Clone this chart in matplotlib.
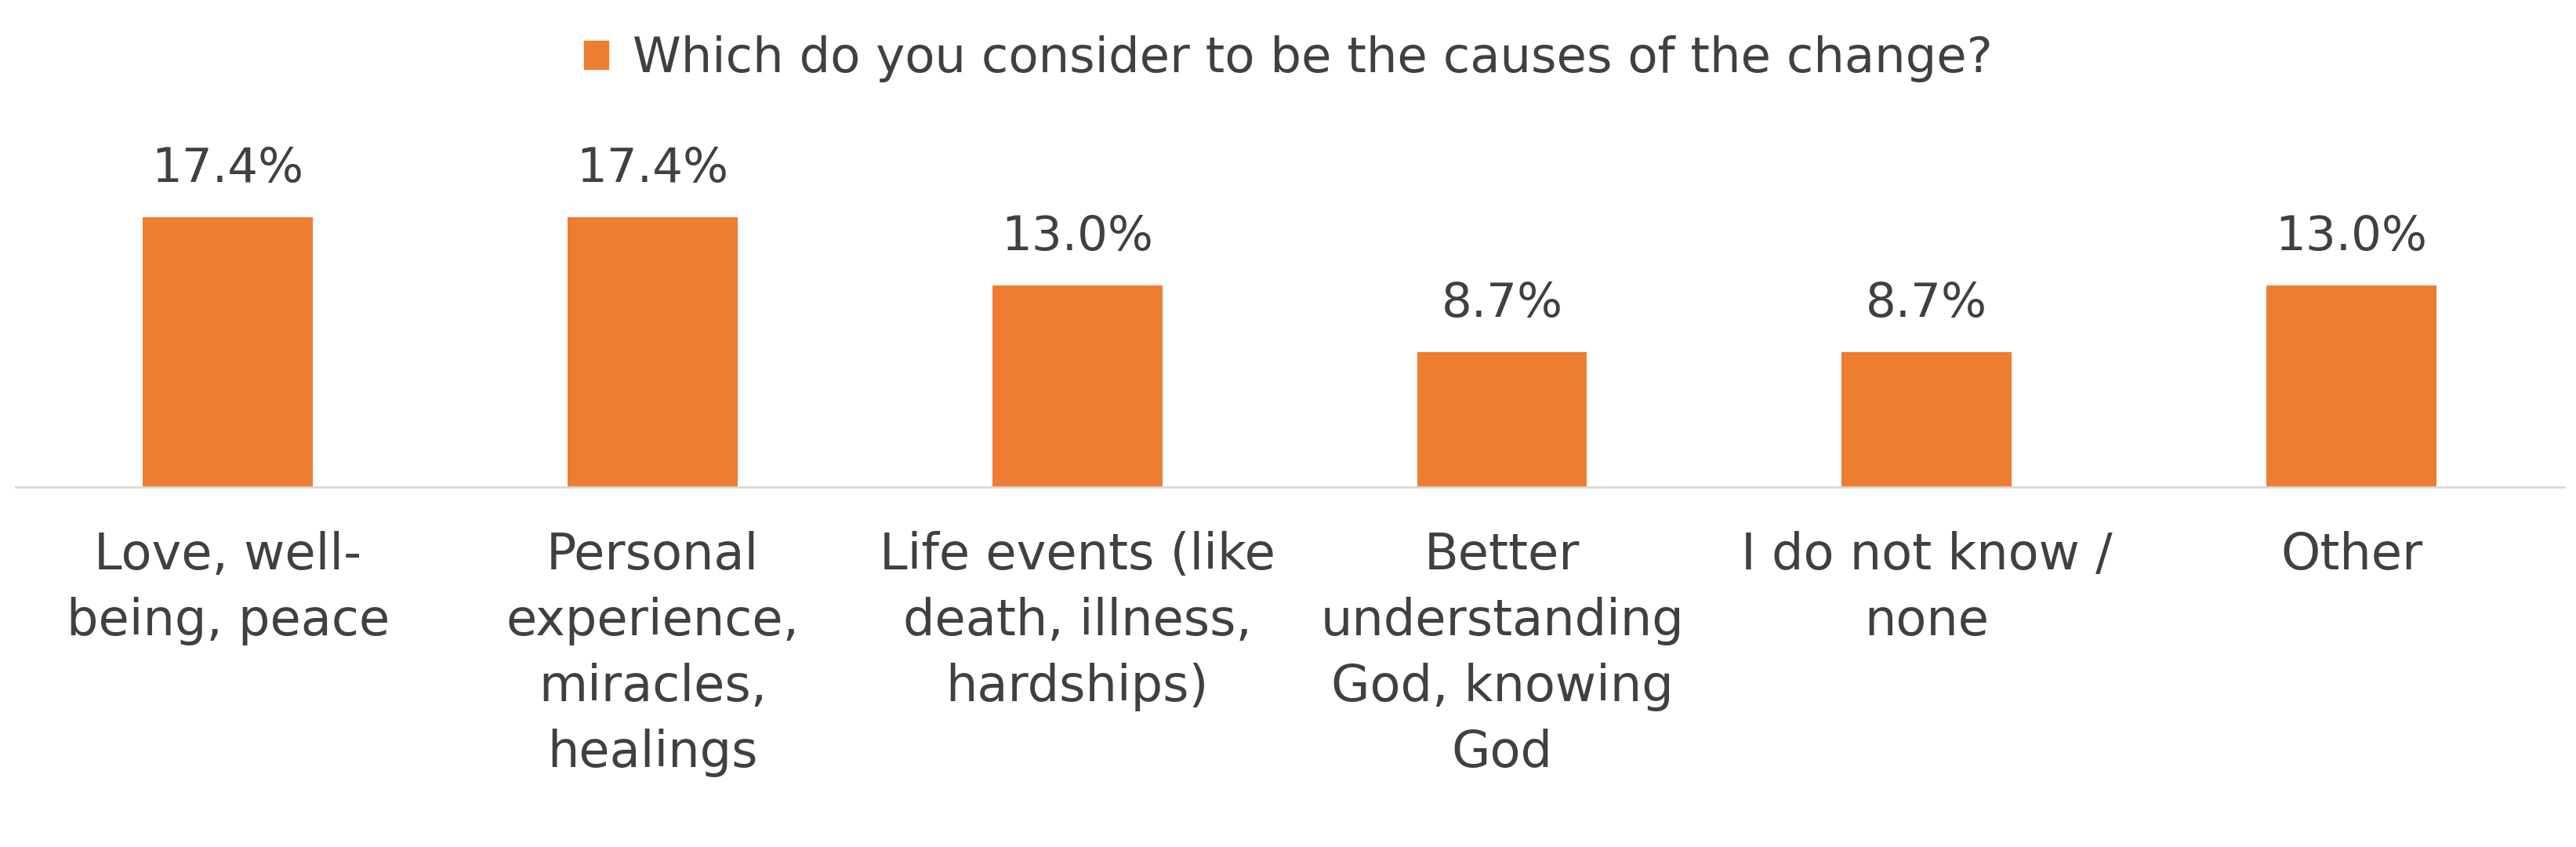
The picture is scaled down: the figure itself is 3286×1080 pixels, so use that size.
import matplotlib.pyplot as plt
from matplotlib.patches import Patch

categories = ["Love, well-\nbeing, peace", "Personal\nexperience,\nmiracles,\nhealings",
              "Life events (like\ndeath, illness,\nhardships)", "Better\nunderstanding\nGod, knowing\nGod",
              "I do not know /\nnone", "Other"]
values = [17.4, 17.4, 13.0, 8.7, 8.7, 13.0]
series_name = "Which do you consider to be the causes of the change?"

BAR = "#ED7D31"
TXT = "#404040"

fig = plt.figure(figsize=(32.87, 10.8), dpi=100)
ax = fig.add_axes([0.006, 0.425, 0.989, 0.458])
x = range(len(values))
ax.bar(x, values, width=0.4, color=BAR)
for i, v in zip(x, values):
    ax.text(i, v + 1.6, f"{v:.1f}%", ha="center", va="bottom", fontsize=44, color=TXT)
ax.set_xlim(-0.5, len(values) - 0.5)
ax.set_ylim(0, 25)
ax.set_yticks([])
ax.set_xticks(list(x))
ax.set_xticklabels(categories, fontsize=46, color=TXT, va="top", linespacing=1.45)
ax.tick_params(axis="x", length=0, pad=40)
for s in ["top", "right", "left"]:
    ax.spines[s].set_visible(False)
ax.spines["bottom"].set_color("#D9D9D9")
ax.spines["bottom"].set_linewidth(2)

fig.legend(handles=[Patch(color=BAR, label=series_name)], loc="upper center",
           bbox_to_anchor=(0.5, 1.01), frameon=False, fontsize=45,
           labelcolor=TXT, handlelength=0.5, handleheight=0.5, handletextpad=0.5)
fig.savefig("out.png", dpi=100, facecolor="white")
